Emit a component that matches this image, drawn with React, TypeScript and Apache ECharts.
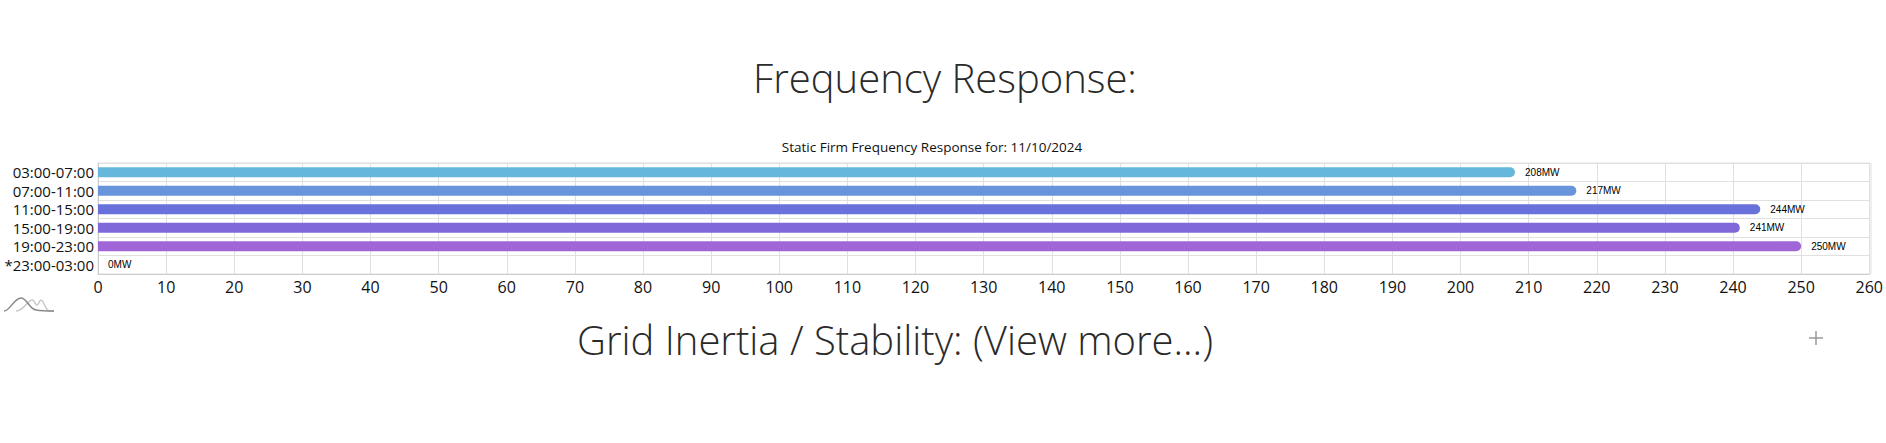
import React, { useEffect, useRef } from "react";
import * as echarts from "echarts";

const categories = ["03:00-07:00", "07:00-11:00", "11:00-15:00", "15:00-19:00", "19:00-23:00", "*23:00-03:00"];
const values = [208, 217, 244, 241, 250, 0];
const barColors = ["#66b7dc", "#6894dc", "#6872da", "#8068da", "#a066d8", "#b066d6"];
const mainTitle = "Frequency Response:";
const subTitle = "Static Firm Frequency Response for: 11/10/2024";
const bottomTitle = "Grid Inertia / Stability: (View more...)";

const darkWave = "M4 311 C 10 311, 14 298, 21 298 C 27 298, 29 309, 36 310 C 42 311, 48 311, 54 311";
const lightWave = "M16 311 C 24 311, 28 300, 32 300 C 35 300, 35 305, 37 305 C 39 305, 39 300, 41 300 C 44 300, 45 311, 50 311 L 54 311";

export default function App() {
  const ref = useRef<HTMLDivElement>(null);
  useEffect(() => {
    if (!ref.current) return;
    echarts.graphic.registerShape("darkWave", echarts.graphic.extendPath(darkWave, {}));
    echarts.graphic.registerShape("lightWave", echarts.graphic.extendPath(lightWave, {}));
    const chart = echarts.init(ref.current, null, { renderer: "svg" });
    chart.setOption({
      animation: false,
      grid: { left: 98, right: 15, top: 163, bottom: 169, containLabel: false },
      xAxis: {
        type: "value",
        min: 0,
        max: 260,
        interval: 10,
        axisLine: { show: true, lineStyle: { color: "#cccccc" } },
        axisTick: { show: false },
        axisLabel: { fontSize: 16, color: "#111", fontFamily: "Open Sans", margin: 5 },
        splitLine: { show: true, lineStyle: { color: "#e0e0e0" } },
      },
      yAxis: {
        type: "category",
        inverse: true,
        data: categories,
        axisLine: { show: true, lineStyle: { color: "#cccccc" } },
        axisTick: { show: false },
        axisLabel: { interval: 0, fontSize: 15, color: "#111", fontFamily: "Open Sans", margin: 4 },
        splitLine: { show: true, interval: 0, lineStyle: { color: "#e0e0e0" } },
      },
      series: [
        {
          type: "bar",
          barWidth: 10,
          data: values.map((v, i) => ({ value: v, itemStyle: { color: barColors[i] } })),
          itemStyle: { borderRadius: [0, 5, 5, 0] },
          label: {
            show: true,
            position: "right",
            distance: 10,
            formatter: "{c}MW",
            fontSize: 10,
            color: "#000",
            fontFamily: "Liberation Sans",
          },
        },
      ],
      graphic: [
        {
          type: "rect",
          shape: { x: 98, y: 163, width: 1773, height: 111 },
          style: { fill: "none", stroke: "#e0e0e0", lineWidth: 1 },
          silent: true,
          z: 0,
        },
        {
          type: "text",
          x: 945,
          y: 77,
          style: { text: mainTitle, fontSize: 40, fontWeight: 300, fontFamily: "Open Sans", fill: "#2a2a2a", textAlign: "center", textVerticalAlign: "middle" },
        },
        {
          type: "text",
          x: 932,
          y: 147,
          style: { text: subTitle, fontSize: 13.5, fontFamily: "Open Sans", fill: "#111", textAlign: "center", textVerticalAlign: "middle" },
        },
        {
          type: "text",
          x: 895,
          y: 339,
          style: { text: bottomTitle, fontSize: 40, fontWeight: 300, fontFamily: "Open Sans", fill: "#2a2a2a", textAlign: "center", textVerticalAlign: "middle" },
        },
        {
          type: "line",
          shape: { x1: 1809, y1: 338, x2: 1823, y2: 338 },
          style: { stroke: "#999", lineWidth: 1.5 },
        },
        {
          type: "line",
          shape: { x1: 1816, y1: 331, x2: 1816, y2: 345 },
          style: { stroke: "#999", lineWidth: 1.5 },
        },
        {
          type: "lightWave",
          x: 0,
          y: 0,
          style: { fill: "none", stroke: "#c8c8c8", lineWidth: 1.5 },
        },
        {
          type: "darkWave",
          x: 0,
          y: 0,
          style: { fill: "none", stroke: "#8a8a8a", lineWidth: 1.5 },
        },
      ],
    });
    return () => chart.dispose();
  }, []);
  return <div ref={ref} style={{ position: "absolute", left: 0, top: 0, width: 1886, height: 443 }} />;
}
